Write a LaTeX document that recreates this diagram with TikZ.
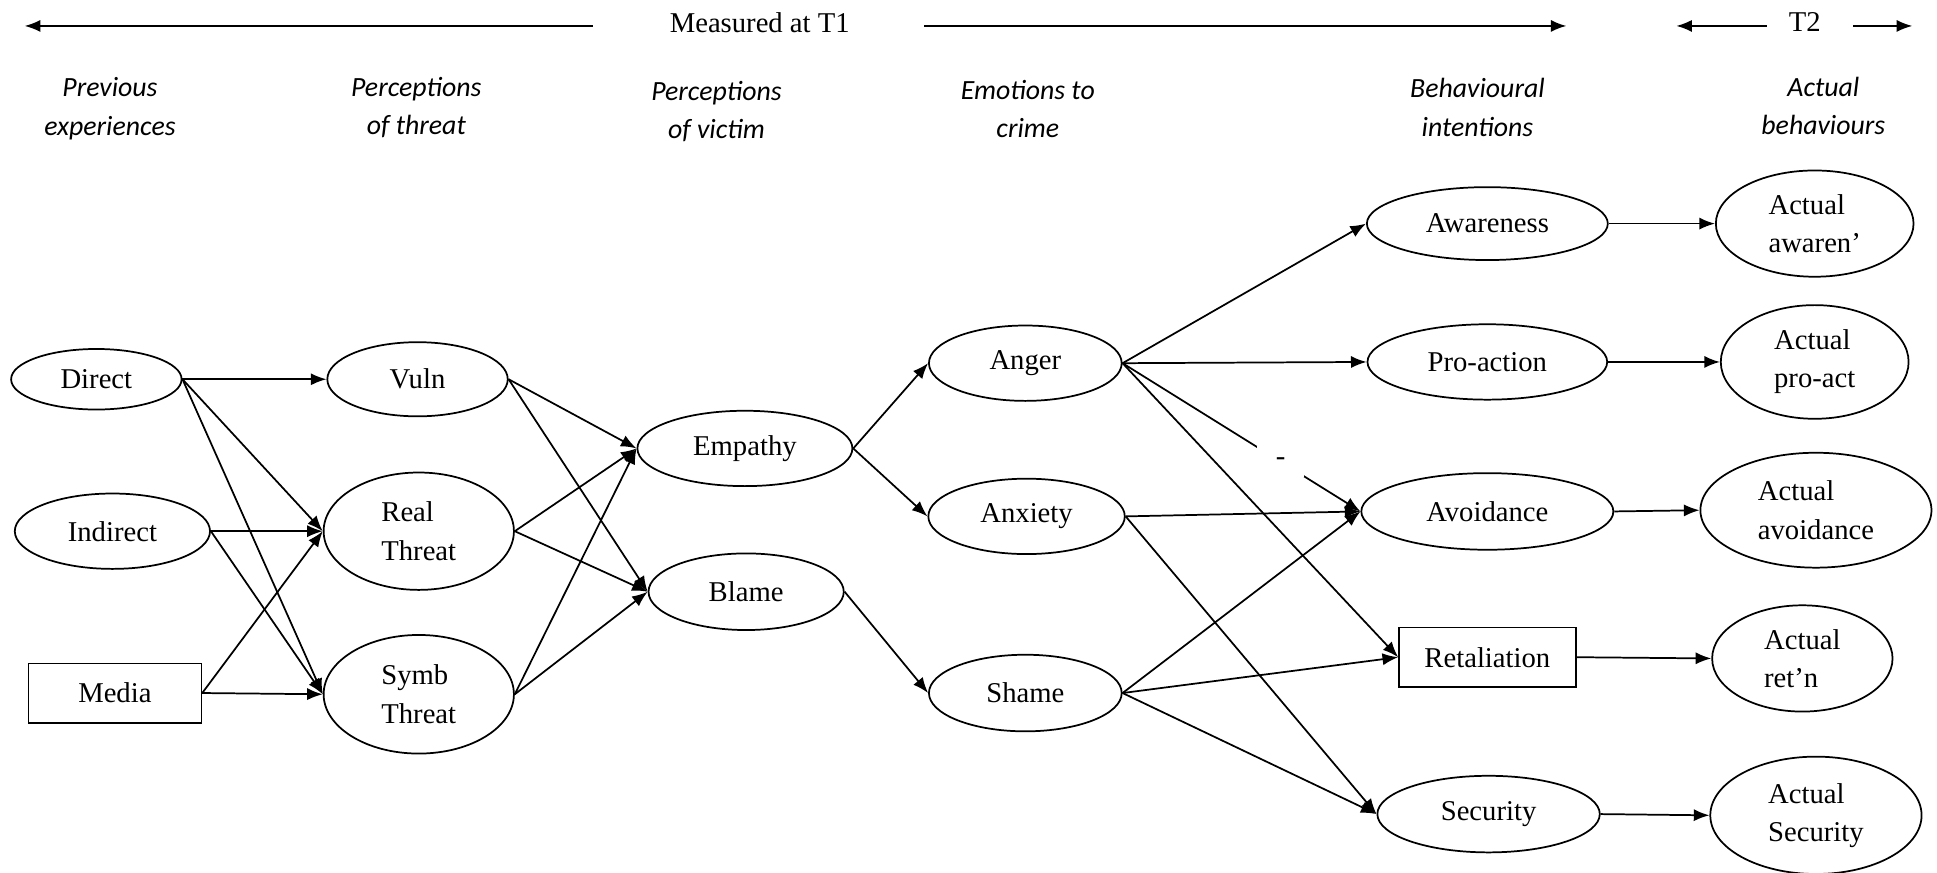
\documentclass[tikz,border=0pt]{standalone}
\usepackage{fontspec}
\setmainfont{Liberation Serif}
\newfontfamily\headfont{Carlito}
\usepackage{tikz}
\usetikzlibrary{arrows.meta}
\usetikzlibrary{shapes.geometric}

\tikzset{
  ell/.style 2 args={draw, ellipse, inner sep=0pt, align=left, minimum width=#1, minimum height=#2},
  box/.style 2 args={draw, rectangle, inner sep=0pt, align=left, minimum width=#1, minimum height=#2},
  head/.style={align=center, font=\headfont\itshape\fontsize{16}{22}\selectfont},
  conn/.style={-{Latex[length=9pt,width=7pt]}}
}

\begin{document}
\begin{tikzpicture}[x=0.025cm,y=-0.025cm,line width=1pt,font=\fontsize{16.5}{22}\selectfont]
\useasboundingbox (0,0) rectangle (1568,706);
%% time line
\node (t1) at (615,18) {Measured at T1};
\coordinate (t1a) at (480,21); \coordinate (t1b) at (20,21);
\coordinate (t1c) at (748,21); \coordinate (t1d) at (1268,21);
\draw[conn] (t1a) -- (t1b);
\draw[conn] (t1c) -- (t1d);
\node (t2) at (1461,18) {T2};
\coordinate (t2a) at (1430,21); \coordinate (t2b) at (1357,21);
\coordinate (t2c) at (1500,21); \coordinate (t2d) at (1548,21);
\draw[conn] (t2a) -- (t2b);
\draw[conn] (t2c) -- (t2d);

%% column heads
\node[head] (hprev) at (89,88) {Previous\\experiences};
\node[head] (hthreat) at (337,87) {Perceptions\\of threat};
\node[head] (hvictim) at (580,90) {Perceptions\\of victim};
\node[head] (hemo) at (832,88) {Emotions to\\crime};
\node[head] (hbeh) at (1196,87) {Behavioural\\intentions};
\node[head] (hact) at (1476,86) {Actual\\behaviours};

%% previous experiences
\node[ell={3.45cm}{1.225cm}] (direct) at (78,307) {Direct};
\node[ell={3.95cm}{1.525cm}] (indirect) at (91,430) {Indirect};
\node[box={3.5cm}{1.2cm}] (media) at (93,561) {Media};
%% threat
\node[ell={3.65cm}{1.5cm}] (vuln) at (338,307) {Vuln};
\node[ell={3.85cm}{2.375cm}] (real) at (339,430) {Real\\Threat};
\node[ell={3.85cm}{2.4cm}] (symb) at (339,562) {Symb\\Threat};
%% victim
\node[ell={4.35cm}{1.525cm}] (empathy) at (603,363) {Empathy};
\node[ell={3.95cm}{1.55cm}] (blame) at (604,479) {Blame};
%% emotions
\node[ell={3.9cm}{1.525cm}] (anger) at (830,294) {Anger};
\node[ell={3.975cm}{1.525cm}] (anxiety) at (831,418) {Anxiety};
\node[ell={3.9cm}{1.55cm}] (shame) at (830,561) {Shame};
%% intentions
\node[ell={4.875cm}{1.475cm}] (aware) at (1204,181) {Awareness};
\node[ell={4.85cm}{1.525cm}] (proact) at (1204,293) {Pro-action};
\node[ell={5.1cm}{1.55cm}] (avoid) at (1204,414) {Avoidance};
\node[box={3.575cm}{1.2cm}] (retal) at (1204,532) {Retaliation};
\node[ell={4.5cm}{1.55cm}] (secur) at (1205,659) {Security};
%% actual behaviours (T2)
\node[ell={4.0cm}{2.15cm}] (actaware) at (1469,181) {Actual\\awaren’};
\node[ell={3.8cm}{2.3cm}] (actproact) at (1469,293) {Actual\\pro-act};
\node[ell={4.675cm}{2.325cm}] (actavoid) at (1470,413) {Actual\\avoidance};
\node[ell={3.65cm}{2.15cm}] (actretal) at (1459,533) {Actual\\ret’n};
\node[ell={4.275cm}{2.375cm}] (actsecur) at (1470,660) {Actual\\Security};

\foreach \a/\b in {direct/vuln, direct/real, direct/symb, indirect/real, indirect/symb,
    media/real, media/symb, vuln/empathy, vuln/blame, real/empathy, real/blame,
    symb/empathy, symb/blame, empathy/anger, empathy/anxiety, blame/shame,
    anger/aware, anger/proact, anger/retal, anxiety/avoid, anxiety/secur,
    shame/avoid, shame/retal, shame/secur, aware/actaware, proact/actproact,
    avoid/actavoid, retal/actretal, secur/actsecur}
  \draw[conn] (\a.east) -- (\b.west);
\draw[conn] (anger.east) -- node[pos=0.665,fill=white,inner sep=0pt,minimum width=27pt,minimum height=18pt] (minus) {-} (avoid.west);
\end{tikzpicture}
\end{document}
